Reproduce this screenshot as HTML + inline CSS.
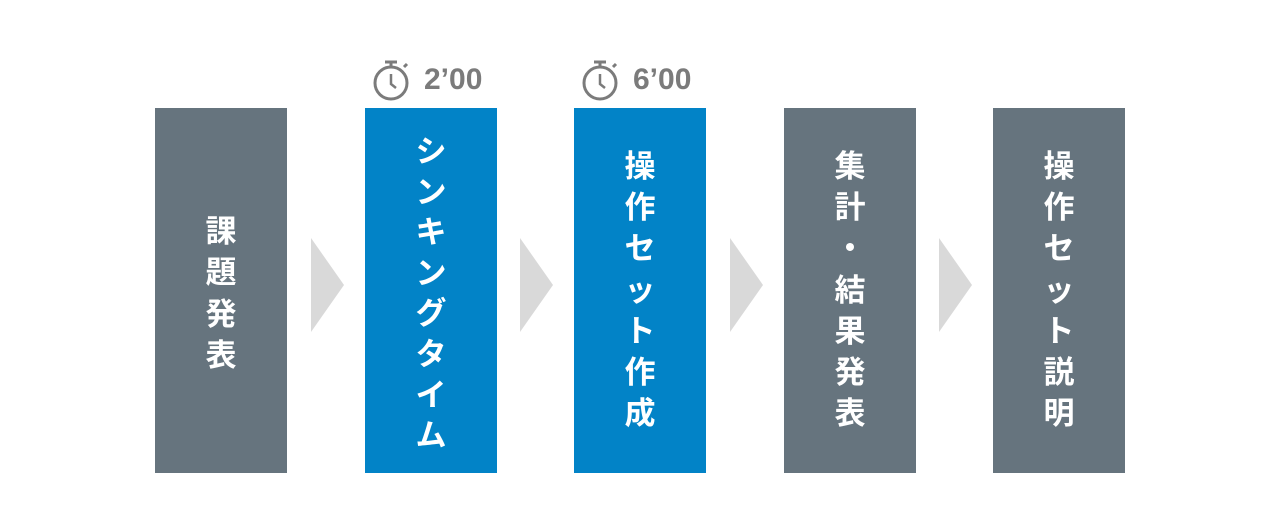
<html><head><style>
body{margin:0;width:1280px;height:518px;background:#fff;position:relative;overflow:hidden;font-family:"Liberation Sans","Noto Sans CJK JP",sans-serif}
.b{position:absolute;top:108px;height:365px;width:132px}
.g{background:#66747e}.bl{background:#0283c7}
.c{position:absolute;left:0;width:100%;text-align:center;color:#fff;font-size:31px;font-weight:bold;line-height:31px;font-family:"Noto Sans CJK JP",sans-serif}
.a{position:absolute;top:238px;width:0;height:0;border-top:47px solid transparent;border-bottom:47px solid transparent;border-left:33px solid #d9d9d9}
.t{position:absolute;top:62px;color:#7b7b7b;font-size:30px;font-weight:bold;line-height:36px}
</style></head><body>
<div class="b g" style="left:155px" id="b1"></div>
<div class="b bl" style="left:365px" id="b2"></div>
<div class="b bl" style="left:574px" id="b3"></div>
<div class="b g" style="left:784px" id="b4"></div>
<div class="b g" style="left:993px" id="b5"></div>
<div class="a" style="left:311px"></div>
<div class="a" style="left:520px"></div>
<div class="a" style="left:730px"></div>
<div class="a" style="left:939px"></div>
<div class="t" style="left:424px">2’00</div>
<div class="t" style="left:633px">6’00</div>
<svg style="position:absolute;left:370px;top:56px" width="42" height="48" viewBox="0 0 42 48"><g fill="none" stroke="#7b7b7b" stroke-width="3"><circle cx="21" cy="27" r="16"/><line x1="21" y1="7" x2="21" y2="11"/><line x1="15" y1="6" x2="27" y2="6"/><line x1="34" y1="11" x2="37" y2="8"/><polyline points="21,18 21,28 26,32" stroke-width="2.5"/></g></svg>
<svg style="position:absolute;left:579px;top:56px" width="42" height="48" viewBox="0 0 42 48"><g fill="none" stroke="#7b7b7b" stroke-width="3"><circle cx="21" cy="27" r="16"/><line x1="21" y1="7" x2="21" y2="11"/><line x1="15" y1="6" x2="27" y2="6"/><line x1="34" y1="11" x2="37" y2="8"/><polyline points="21,18 21,28 26,32" stroke-width="2.5"/></g></svg>
<script>
function put(id,s,first,step){var b=document.getElementById(id);[...s].forEach((ch,i)=>{var d=document.createElement('div');d.className='c';d.textContent=ch;d.style.top=(first+i*step-108-15)+'px';b.appendChild(d);});}
put('b1','課題発表',228,41.3);
put('b2','シンキングタイム',148,40.6);
put('b3','操作セット作成',163,41.2);
put('b4','集計・結果発表',163,41.2);
put('b5','操作セット説明',163,41.2);
</script>
</body></html>
